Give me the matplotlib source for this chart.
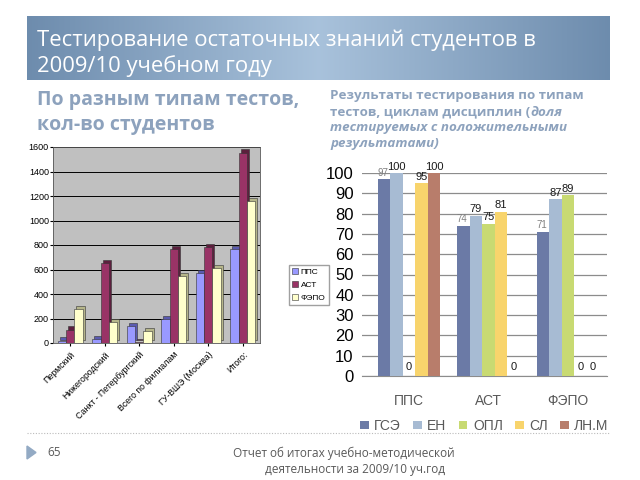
import numpy as np
import matplotlib.pyplot as plt
from matplotlib.patches import Polygon

plt.rcParams['font.family'] = ['Open Sans', 'DejaVu Sans']

# Left chart: number of students by test type
branches = ["Пермский", "Нижегородский", "Санкт - Петербургский",
            "Всего по филиалам", "ГУ-ВШЭ (Москва)", "Итого:"]
pps = [20, 35, 140, 195, 570, 765]
ast = [110, 650, 10, 770, 780, 1555]
fepo = [275, 175, 100, 550, 610, 1160]
left_series = ["ППС", "АСТ", "ФЭПО"]

# Right chart: share of students with positive results
test_types = ["ППС", "АСТ", "ФЭПО"]
gse = [97, 74, 71]
en = [100, 79, 87]
opl = [0, 75, 89]
sl = [95, 81, 0]
lnm = [100, 0, 0]
right_series = ["ГСЭ", "ЕН", "ОПЛ", "СЛ", "ЛН.М"]

W, H = 640, 480
fig = plt.figure(figsize=(6.4, 4.8), dpi=100)
fig.patch.set_facecolor("white")
renderer = fig.canvas.get_renderer()
arial = ["Liberation Sans", "DejaVu Sans"]


def px(x0, y0, x1, y1):
    return [x0 / W, 1 - y1 / H, (x1 - x0) / W, (y1 - y0) / H]


# Title banner with a horizontal gradient
bg = fig.add_axes(px(27, 16, 610, 80))
grad = np.linspace(0, 1, 256)
shade = 1 - np.abs(grad - 0.5) * 2
c_edge = np.array([0.43, 0.55, 0.68])
c_mid = np.array([0.66, 0.76, 0.86])
img = c_edge[None, :] + (c_mid - c_edge)[None, :] * shade[:, None]
bg.imshow(img[None, :, :], aspect="auto", extent=(0, 1, 0, 1))
bg.set_axis_off()
fig.text(37 / W, 1 - 40 / H, "Тестирование остаточных знаний студентов в",
         color="white", fontsize=15.8, va="center", ha="left")
fig.text(37 / W, 1 - 66 / H, "2009/10 учебном году",
         color="white", fontsize=15.8, va="center", ha="left")

# Subtitles
sub_color = "#8DA2BD"
fig.text(37 / W, 1 - 100 / H, "По разным типам тестов,", color=sub_color,
         fontsize=14, fontweight="bold", va="center")
fig.text(37 / W, 1 - 125 / H, "кол-во студентов", color=sub_color,
         fontsize=14, fontweight="bold", va="center")
rs = 9.6
fig.text(330 / W, 1 - 96 / H, "Результаты тестирования по типам", color=sub_color,
         fontsize=rs, fontweight="bold", va="center")
part = fig.text(330 / W, 1 - 112 / H, "тестов, циклам дисциплин (", color=sub_color,
                fontsize=rs, fontweight="bold", va="center")
x_end = part.get_window_extent(renderer).x1 / W
fig.text(x_end, 1 - 112 / H, "доля", color=sub_color,
         fontsize=rs, fontweight="bold", style="italic", va="center")
fig.text(330 / W, 1 - 128 / H, "тестируемых с положительными", color=sub_color,
         fontsize=rs, fontweight="bold", style="italic", va="center")
fig.text(330 / W, 1 - 144 / H, "результатами)", color=sub_color,
         fontsize=rs, fontweight="bold", style="italic", va="center")

# Left chart
ax1 = fig.add_axes(px(53, 147, 260, 343))
x = np.arange(len(branches))
bw = 0.24
left_colors = ["#9999FF", "#993366", "#FFFFCC"]
side_colors = ["#5A5AB0", "#5C1F3D", "#B5B58A"]
for i, (vals, col, sc) in enumerate(zip([pps, ast, fepo], left_colors, side_colors)):
    pos = x + (i - 1) * bw
    ax1.bar(pos + 0.06, vals, bw, bottom=25, color=sc, edgecolor="#333333",
            linewidth=0.4, zorder=2)
    ax1.bar(pos, vals, bw, color=col, edgecolor="#333333", linewidth=0.4,
            zorder=3, label=left_series[i])
ax1.set_facecolor("#C0C0C0")
ax1.set_xlim(-0.5, len(branches) - 0.5)
ax1.set_ylim(0, 1600)
ax1.set_yticks(range(0, 1601, 200))
ax1.yaxis.grid(True, color="black", linewidth=0.7, zorder=0)
ax1.set_axisbelow(True)
ax1.tick_params(axis="y", labelsize=6.5, length=2, pad=1)
ax1.set_xticks(x)
ax1.set_xticklabels(branches, rotation=45, ha="right", rotation_mode="anchor",
                    fontsize=6.3, family=arial)
ax1.tick_params(axis="x", length=2, pad=3)
for lab in ax1.get_yticklabels():
    lab.set_family(arial)
for s in ax1.spines.values():
    s.set_color("#555555")
    s.set_linewidth(0.6)
ax1.legend(loc="upper left", bbox_to_anchor=(1.12, 0.42),
           frameon=True, fancybox=False, edgecolor="#888888", handlelength=0.7,
           handleheight=0.7, handletextpad=0.3, borderpad=0.4, labelspacing=0.6,
           prop={"family": arial, "size": 6})

# Right chart
ax2 = fig.add_axes(px(362, 173, 607, 376))
right_colors = ["#6B7AA6", "#A7BBD3", "#C8DA72", "#F8D46C", "#B87D6B"]
x2 = np.arange(len(test_types))
bw2 = 0.157
for i, (vals, col) in enumerate(zip([gse, en, opl, sl, lnm], right_colors)):
    pos = x2 + (i - 2) * bw2
    bars = ax2.bar(pos, vals, bw2, color=col, label=right_series[i], zorder=3)
    for b, v in zip(bars, vals):
        ax2.annotate(str(v), (b.get_x() + b.get_width() / 2, v),
                     xytext=(-1 if i == 0 else 0, 1 if v else 3),
                     textcoords="offset points",
                     ha="center", va="bottom",
                     fontsize=7 if i == 0 else 8,
                     color="#808080" if i == 0 else "#1A1A1A",
                     family=arial)
ax2.set_xlim(-0.59, 2.49)
ax2.set_ylim(0, 100)
ax2.set_yticks(range(0, 101, 10))
ax2.yaxis.grid(True, color="#8C8C8C", linewidth=0.9, zorder=0)
ax2.set_axisbelow(True)
ax2.tick_params(axis="y", length=0, labelsize=12, pad=6)
for lab in ax2.get_yticklabels():
    lab.set_family(arial)
ax2.set_xticks(x2)
ax2.set_xticklabels(test_types, fontsize=10, color="#595959", family=arial)
ax2.tick_params(axis="x", length=0, pad=13)
for name in ["top", "right", "left"]:
    ax2.spines[name].set_visible(False)
ax2.spines["bottom"].set_color("#8C8C8C")
ax2.legend(loc="upper center", bbox_to_anchor=(0.5, -0.15), ncol=5,
           frameon=False, handlelength=0.6, handleheight=0.6,
           handletextpad=0.4, columnspacing=0.9,
           prop={"family": arial, "size": 10},
           labelcolor="#595959")

# Footer
fig.add_artist(plt.Line2D([27 / W, 610 / W], [1 - 433 / H, 1 - 433 / H],
                          color="#BBBBBB", linewidth=0.8, linestyle=(0, (1, 1.5))))
fig.add_artist(Polygon([[27 / W, 1 - 446 / H], [27 / W, 1 - 459 / H],
                        [36 / W, 1 - 452.5 / H]], closed=True,
                       color="#93AAC4", transform=fig.transFigure))
fig.text(47 / W, 1 - 452 / H, "65", color="#595959", fontsize=8.5, va="center")
fig.text(233 / W, 1 - 453 / H, "Отчет об итогах учебно-методической",
         color="#595959", fontsize=8.5, va="center")
fig.text(445 / W, 1 - 470 / H, "деятельности за 2009/10 уч.год",
         color="#595959", fontsize=8.5, va="center", ha="right")

fig.savefig("out.png", dpi=100)
